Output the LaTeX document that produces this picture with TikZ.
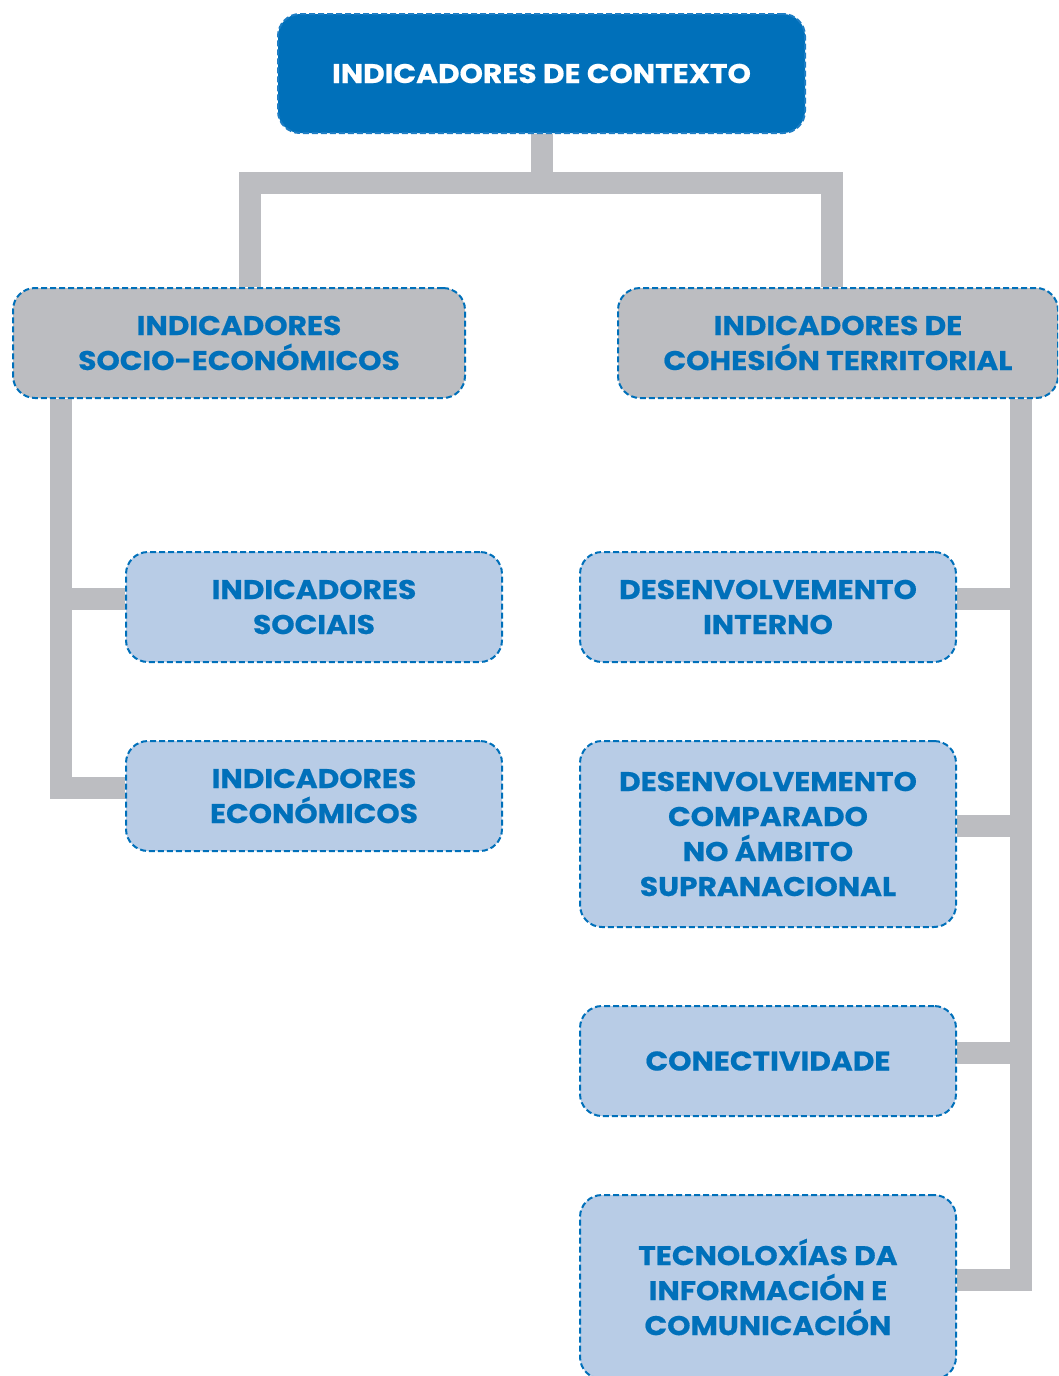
\documentclass[tikz,border=0pt]{standalone}
\usepackage{fontspec}
\setmainfont{Poppins}[FakeStretch=1.1, BoldFeatures={FakeBold=0.6}]
\usetikzlibrary{calc}
\definecolor{dblue}{HTML}{0070BA}
\definecolor{lblue}{HTML}{B8CCE6}
\definecolor{cgray}{HTML}{BCBDC1}
\definecolor{bdash}{HTML}{1C7DC4}
\pgfdeclarelayer{bg}
\pgfsetlayers{bg,main}
\tikzset{
  box/.style={draw=dblue, line width=2pt, dash pattern=on 6pt off 3pt, rounded corners=22pt,
    align=center, inner sep=0pt, font=\fontsize{27}{35}\selectfont\bfseries, text=dblue},
  topbox/.style={box, fill=dblue, draw=bdash, text=white},
  midbox/.style={box, fill=cgray},
  leafbox/.style={box, fill=lblue},
  conn/.style={draw=cgray, line width=22pt, line join=miter, line cap=butt},
}
\begin{document}
\begin{tikzpicture}[x=1pt,y=-1pt]
\useasboundingbox (0,0) rectangle (1058,1376);
\clip (0,0) rectangle (1058,1376);
\node[topbox, minimum width=527pt, minimum height=119pt] (top) at (541.5,73.5) {INDICADORES DE CONTEXTO};
\node[midbox, minimum width=452pt, minimum height=110pt] (socio) at (239,343) {INDICADORES\\SOCIO-ECONÓMICOS};
\node[midbox, minimum width=440pt, minimum height=110pt] (cohes) at (838,343) {INDICADORES DE\\COHESIÓN TERRITORIAL};
\node[leafbox, minimum width=376pt, minimum height=110pt] (sociais) at (314,607) {INDICADORES\\SOCIAIS};
\node[leafbox, minimum width=376pt, minimum height=110pt] (econ) at (314,796) {INDICADORES\\ECONÓMICOS};
\node[leafbox, minimum width=376pt, minimum height=110pt] (interno) at (768,607) {DESENVOLVEMENTO\\INTERNO};
\node[leafbox, minimum width=376pt, minimum height=186pt] (comp) at (768,834) {DESENVOLVEMENTO\\COMPARADO\\NO ÁMBITO\\SUPRANACIONAL};
\node[leafbox, minimum width=376pt, minimum height=110pt] (conect) at (768,1061) {CONECTIVIDADE};
\node[leafbox, minimum width=376pt, minimum height=184pt] (tec) at (768,1287) {TECNOLOXÍAS DA\\INFORMACIÓN E\\COMUNICACIÓN};
\coordinate (jL) at (250,183);
\coordinate (jR) at (832,183);
\coordinate (lx) at (61,0);
\coordinate (rx) at (1021,0);
\coordinate (sociaisW) at ($(sociais.west)+(0,-8)$);
\coordinate (econW) at ($(econ.west)+(0,-8)$);
\coordinate (internoE) at ($(interno.east)+(0,-8)$);
\coordinate (compE) at ($(comp.east)+(0,-8)$);
\coordinate (conectE) at ($(conect.east)+(0,-8)$);
\coordinate (tecE) at ($(tec.east)+(0,-7)$);
\begin{pgfonlayer}{bg}
\draw[conn] (top.south) -- (top.south |- jL);
\draw[conn] (socio.north -| jL) -- (jL) -- (jR) -- (cohes.north -| jR);
\draw[conn] (socio.south -| lx) -- (lx |- econW) -- (econW);
\draw[conn] (lx |- sociaisW) -- (sociaisW);
\draw[conn] (cohes.south -| rx) -- (rx |- tecE) -- (tecE);
\draw[conn] (rx |- internoE) -- (internoE);
\draw[conn] (rx |- compE) -- (compE);
\draw[conn] (rx |- conectE) -- (conectE);
\end{pgfonlayer}
\end{tikzpicture}
\end{document}
